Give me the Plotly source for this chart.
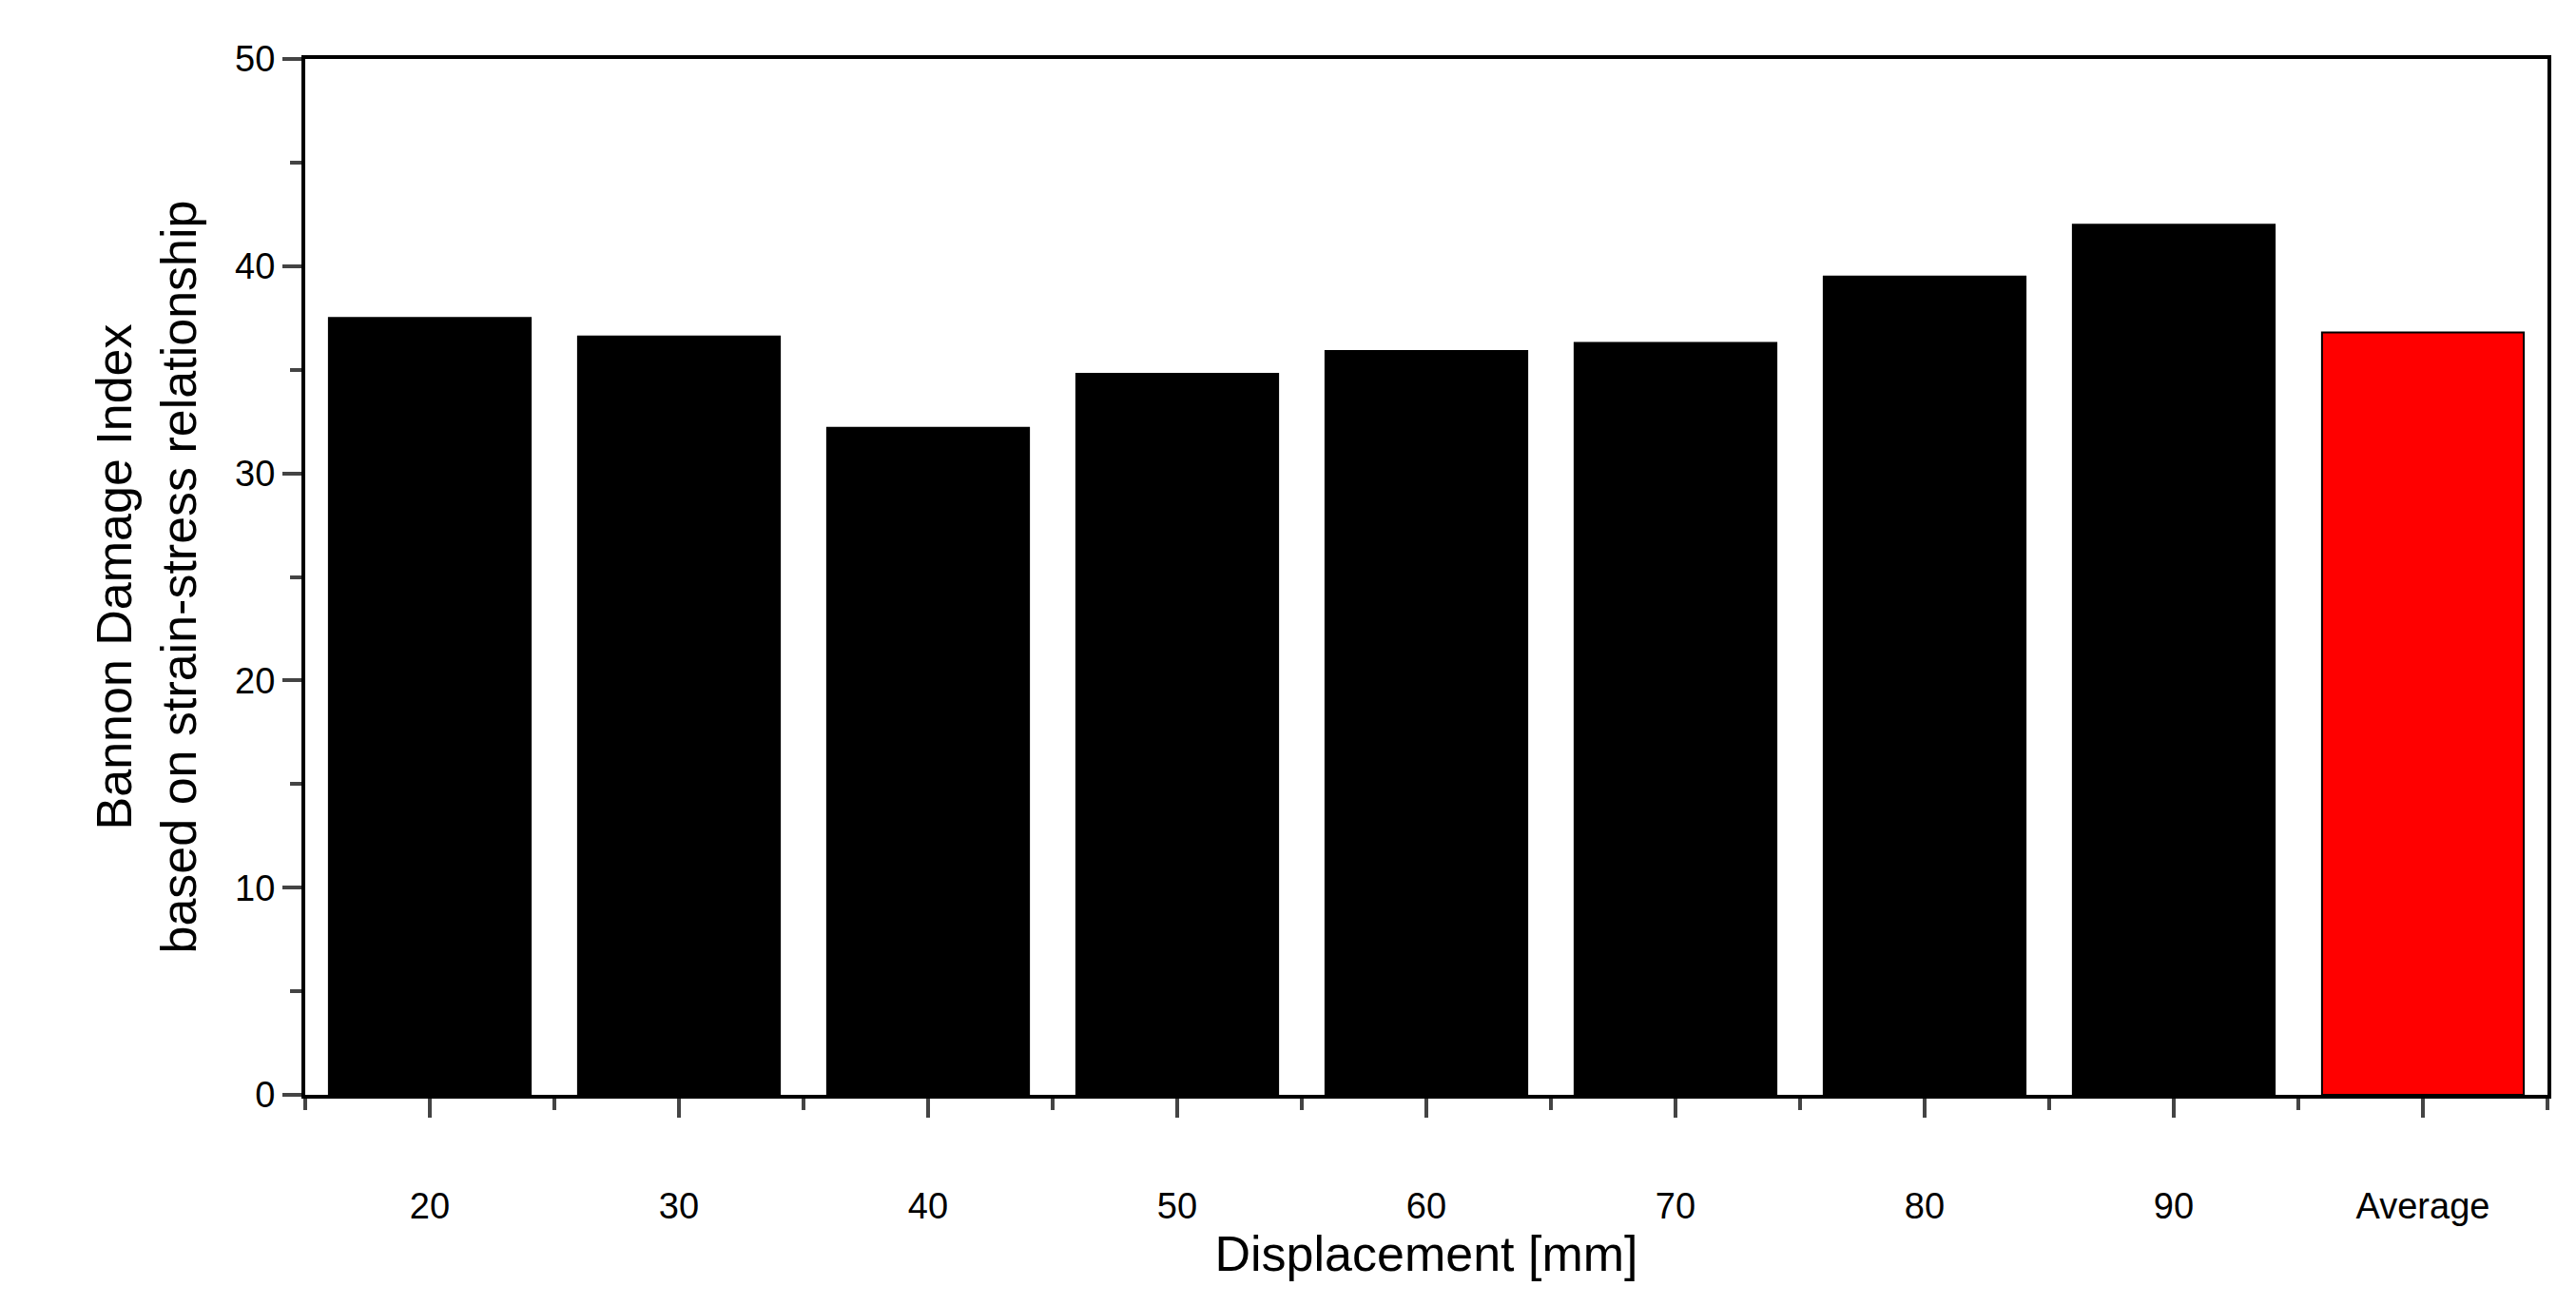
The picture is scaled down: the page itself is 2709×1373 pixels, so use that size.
import plotly.graph_objects as go

# Bar data
labels = ["20", "30", "40", "50", "60", "70", "80", "90", "Average"]
values = [37.5, 36.6, 32.2, 34.8, 35.9, 36.3, 39.5, 42.0, 36.8]
colors = ["black"] * 8 + ["#ff0000"]
positions = list(range(len(labels)))

fig = go.Figure()

fig.add_trace(
    go.Bar(
        x=positions,
        y=values,
        width=0.81,
        marker=dict(color=colors, line=dict(color="black", width=2)),
    )
)

font = "Liberation Sans, Arial, sans-serif"

fig.update_layout(
    width=2709,
    height=1373,
    plot_bgcolor="white",
    paper_bgcolor="white",
    showlegend=False,
    margin=dict(l=313, r=38, t=54, b=230),
    font=dict(family=font, color="black", size=38),
)

fig.update_xaxes(
    range=[-0.5, 8.5],
    tickvals=positions,
    ticktext=labels,
    ticks="outside",
    ticklen=20,
    tickwidth=4,
    ticklabelstandoff=60,
    showline=True,
    linewidth=4,
    linecolor="black",
    mirror=True,
    showgrid=False,
    zeroline=False,
    minor=dict(tick0=-0.5, dtick=1, ticks="outside", ticklen=12, tickwidth=4),
    title=dict(text="Displacement [mm]", font=dict(size=52), standoff=10),
)

fig.update_yaxes(
    range=[0, 50],
    dtick=10,
    ticks="outside",
    ticklen=20,
    tickwidth=4,
    showline=True,
    linewidth=4,
    linecolor="black",
    mirror=True,
    showgrid=False,
    zeroline=False,
    minor=dict(dtick=5, ticks="outside", ticklen=12, tickwidth=4),
    title=dict(
        text="Bannon Damage Index<br>based on strain-stress relationship",
        font=dict(size=52),
        standoff=25,
    ),
)

fig.write_html("out.html")
